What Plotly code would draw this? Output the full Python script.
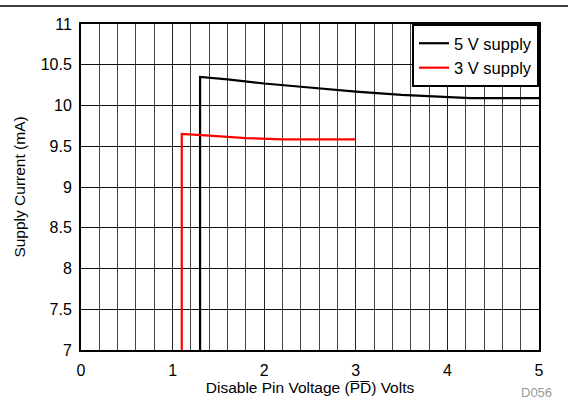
import plotly.graph_objects as go

# 5 V supply curve
x5 = [1.3, 1.3, 1.6, 2.0, 2.4, 3.0, 3.5, 4.0, 4.25, 5.0]
y5 = [7.0, 10.35, 10.32, 10.27, 10.23, 10.17, 10.13, 10.10, 10.09, 10.09]
# 3 V supply curve
x3 = [1.1, 1.1, 1.4, 1.8, 2.2, 3.0]
y3 = [7.0, 9.65, 9.63, 9.60, 9.585, 9.585]

xticks = [0, 1, 2, 3, 4, 5]
yticks = [7, 7.5, 8, 8.5, 9, 9.5, 10, 10.5, 11]

FONT = "Liberation Sans, Arial, sans-serif"

fig = go.Figure()
fig.add_trace(go.Scatter(x=x5, y=y5, mode="lines", name="5 V supply",
                         line=dict(color="black", width=2.2)))
fig.add_trace(go.Scatter(x=x3, y=y3, mode="lines", name="3 V supply",
                         line=dict(color="#ff0000", width=2.2)))

fig.update_layout(
    width=568, height=403,
    margin=dict(l=81, r=29, t=24, b=53),
    paper_bgcolor="white", plot_bgcolor="white",
    font=dict(family=FONT, size=16, color="black"),
    showlegend=True,
    legend=dict(x=1, y=1, xanchor="right", yanchor="top",
                bgcolor="white", bordercolor="black", borderwidth=2,
                font=dict(size=16.5), tracegroupgap=0, itemwidth=30),
    xaxis=dict(range=[0, 5], tickvals=xticks, ticktext=[str(v) for v in xticks],
               showgrid=True, gridcolor="#222", gridwidth=1,
               minor=dict(dtick=0.2, showgrid=True, gridcolor="#444", gridwidth=1),
               showline=True, linecolor="black", linewidth=2, mirror=True,
               zeroline=False, ticks="", tickfont=dict(size=16), ticklabelstandoff=5,
               title=dict(text="Disable Pin Voltage (P\u0305D\u0305) Volts",
                          font=dict(size=15.5), standoff=0)),
    yaxis=dict(range=[7, 11], tickvals=yticks, ticktext=[f"{v:g}" for v in yticks],
               showgrid=True, gridcolor="#111", gridwidth=1,
               showline=True, linecolor="black", linewidth=2, mirror=True,
               zeroline=False, ticks="", tickfont=dict(size=16), ticklabelstandoff=4,
               title=dict(text="Supply Current (mA)", font=dict(size=15.5), standoff=11)),
)

fig.add_shape(type="line", xref="paper", yref="paper", x0=-81/458, x1=(568-81)/458,
              y0=1 + 18/326, y1=1 + 18/326, line=dict(color="black", width=1.5))
fig.add_annotation(text="D056", xref="paper", yref="paper", x=1 + 15/458, y=-43/326,
                   xanchor="right", yanchor="middle", showarrow=False,
                   font=dict(size=13, color="#999999"))

fig.write_html("out.html", config={"displayModeBar": False},
               post_script="document.body.style.margin='0';document.body.style.overflow='hidden';")
